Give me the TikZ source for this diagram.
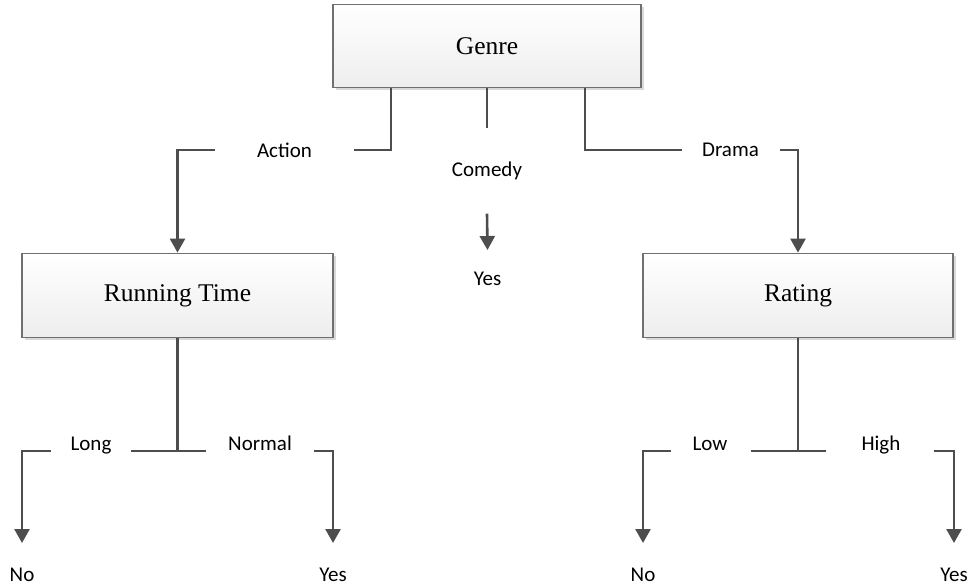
\documentclass[tikz,border=0pt]{standalone}
\usepackage{fontspec}
\setmainfont{Liberation Serif}
\newfontfamily\labfont{Carlito}
\usetikzlibrary{arrows.meta,shadows,calc}
\definecolor{linegray}{HTML}{4D4D4D}
\definecolor{boxborder}{HTML}{707070}
\tikzset{
  box/.style={draw=boxborder, line width=1.8pt, top color=white, bottom color=black!7,
    minimum width=#1, minimum height=83pt, inner sep=0pt,
    font=\fontsize{25.5}{30}\selectfont,
    drop shadow={shadow xshift=2.5pt, shadow yshift=-2.5pt, fill=black!25, opacity=0.6}},
  lbl/.style={inner sep=0pt, minimum height=20pt, font=\labfont\fontsize{21}{25}\selectfont, text=black},
  lbltext/.style={inner sep=0pt, anchor=base, font=\labfont\fontsize{21}{25}\selectfont, text=black},
  leaf/.style={inner xsep=0pt, inner ysep=#1, font=\labfont\fontsize{21}{25}\selectfont, text=black},
  conn/.style={draw=linegray, line width=2.6pt},
  arr/.style={conn, -{Triangle[length=14pt,width=15pt]}}
}
\begin{document}
\begin{tikzpicture}[x=1pt,y=-1pt]
\useasboundingbox (0,0) rectangle (969,586);
% boxes
\node[box=308pt] (genre) at (487,46) {Genre};
\node[box=311pt, minimum height=84pt] (rt) at (177.5,295.5) {Running Time};
\node[box=310pt, minimum height=84pt] (rating) at (798,295.5) {Rating};
% branch labels
\node[lbl, minimum width=139pt] (action) at (284.5,150) {Action};
\node[lbl, minimum width=97.6pt] (drama) at (730.5,150) {Drama};
\node[lbl, minimum height=85pt] (comedy) at (487,171) {Comedy};
\node[lbl, minimum width=80pt] (long) at (91,451) {};
\node[lbl, minimum width=108pt] (normal) at (260,451) {};
\node[lbl, minimum width=80pt] (low) at (711,451) {};
\node[lbl, minimum width=108pt] (high) at (880,451) {};
\node[lbltext] (longt) at (91,450) {Long};
\node[lbltext] (normalt) at (260,450) {Normal};
\node[lbltext] (lowt) at (710,450) {Low};
\node[lbltext] (hight) at (881,450) {High};
% leaves
\node[leaf=22pt, anchor=north] (yesc) at (487.5,250) {Yes};
\node[leaf=25pt, anchor=north] (no1) at (22,543) {No};
\node[leaf=25pt, anchor=north] (yes1) at (333,543) {Yes};
\node[leaf=25pt, anchor=north] (no2) at (643,543) {No};
\node[leaf=25pt, anchor=north] (yes2) at (954,543) {Yes};
% connectors from Genre
\draw[conn] ($(genre.south)+(-96,0)$) |- (action.east);
\draw[arr] (action.west) -| (rt.north);
\draw[conn] (genre.south) -- (comedy.north);
\draw[arr] (comedy.south) -- (yesc.north);
\draw[conn] ($(genre.south)+(98,0)$) |- (drama.west);
\draw[arr] (drama.east) -| (rating.north);
% Running Time
\draw[conn] (rt.south) -- (rt.south |- long.east);
\draw[conn] (long.east) -- (normal.west);
\draw[arr] (long.west) -| (no1.north);
\draw[arr] (normal.east) -| (yes1.north);
% Rating
\draw[conn] (rating.south) -- (rating.south |- low.east);
\draw[conn] (low.east) -- (high.west);
\draw[arr] (low.west) -| (no2.north);
\draw[arr] (high.east) -| (yes2.north);
\end{tikzpicture}
\end{document}
